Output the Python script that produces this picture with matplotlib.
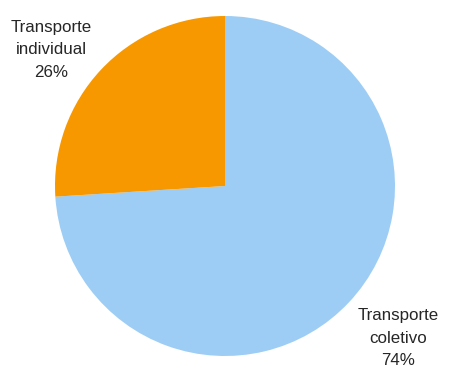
import matplotlib.pyplot as plt

plt.rcParams['font.family'] = ['Liberation Sans', 'DejaVu Sans']

categories = ['Transporte\ncoletivo', 'Transporte\nindividual']
shares = [74, 26]
colors = ['#9DCDF5', '#F79800']

fig = plt.figure(figsize=(4.54, 3.71), dpi=100)
W, H = 454, 371
# pie center ~ (225, 186) px, radius ~170 px
ax = fig.add_axes([(225 - 170) / W, (H - 186 - 170) / H, 340 / W, 340 / H])

labels = [f'{c}\n{s}%' for c, s in zip(categories, shares)]
wedges, texts = ax.pie(shares, labels=labels, colors=colors, startangle=90,
                       counterclock=False, labeldistance=1.33,
                       wedgeprops=dict(linewidth=0),
                       textprops=dict(fontsize=12.2, color='#262626'))
# nudge labels to where they sit in the original
label_xy = [(1.02, -0.895), (-1.02, 0.80)]
for t, xy in zip(texts, label_xy):
    t.set_position(xy)
    t.set_ha('center')
    t.set_va('center')
    t.set_multialignment('center')
    t.set_linespacing(1.65)

ax.set_xlim(-1, 1)
ax.set_ylim(-1, 1)
ax.set_aspect('equal')
ax.axis('off')

fig.savefig('out.png', dpi=100, facecolor='white')
